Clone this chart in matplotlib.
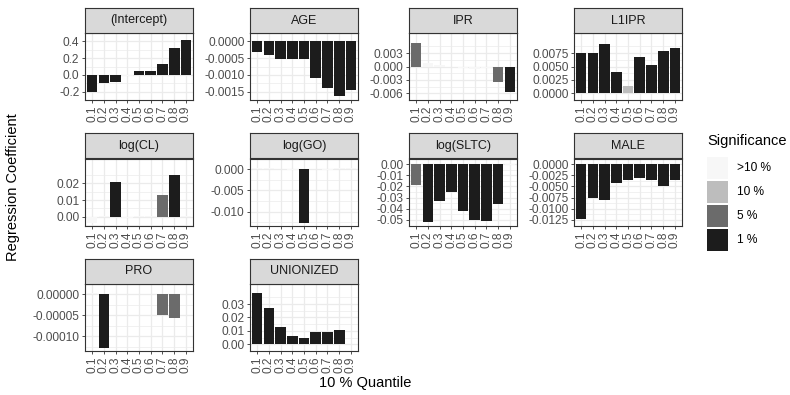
import numpy as np
import matplotlib
matplotlib.use('Agg')
import matplotlib.pyplot as plt
from matplotlib.patches import Rectangle

plt.rcParams['font.family'] = ['Liberation Sans', 'DejaVu Sans']
plt.rcParams['axes.unicode_minus'] = False

# quantiles on the x axis
quantiles = ['0.1', '0.2', '0.3', '0.4', '0.5', '0.6', '0.7', '0.8', '0.9']

# coefficient estimates per term
intercept = [-0.21, -0.10, -0.083, -0.01, 0.045, 0.045, 0.13, 0.32, 0.42]
age = [-0.00031, -0.00041, -0.00053, -0.00053, -0.00053, -0.00108, -0.00139, -0.00162, -0.00145]
ipr = [0.0053, 0.0008, 0.0003, -0.0002, -0.0004, -0.0005, -0.0003, -0.0034, -0.0056]
l1ipr = [0.0076, 0.0076, 0.0092, 0.0040, 0.0014, 0.0067, 0.0053, 0.0079, 0.0084]
log_cl = [-0.0038, 0.0005, 0.0206, -0.001, 0.0003, 0.0004, 0.013, 0.0251, 0.0002]
log_go = [0.0003, 0.0002, 0.0001, -0.0002, -0.0126, 0.0001, -0.0003, 0.0002, 0.0003]
log_sltc = [-0.019, -0.052, -0.033, -0.025, -0.042, -0.050, -0.051, -0.036, -0.0005]
male = [-0.0123, -0.0076, -0.0081, -0.0042, -0.0036, -0.0031, -0.0036, -0.0048, -0.0036]
pro = [0.0000028, -0.000128, 0.000001, 0.0000015, 0.000001, 0.000002, -0.00005, -0.000057, 0.000001]
unionized = [0.0383, 0.0273, 0.0132, 0.0060, 0.0046, 0.0091, 0.0091, 0.0108, 0.0002]

# significance level per bar
sig_intercept = ['1 %', '1 %', '1 %', '>10 %', '1 %', '1 %', '1 %', '1 %', '1 %']
sig_age = ['1 %'] * 9
sig_ipr = ['5 %', '>10 %', '>10 %', '>10 %', '>10 %', '>10 %', '>10 %', '5 %', '1 %']
sig_l1ipr = ['1 %', '1 %', '1 %', '1 %', '10 %', '1 %', '1 %', '1 %', '1 %']
sig_log_cl = ['>10 %', '>10 %', '1 %', '>10 %', '>10 %', '>10 %', '5 %', '1 %', '>10 %']
sig_log_go = ['>10 %', '>10 %', '>10 %', '>10 %', '1 %', '>10 %', '>10 %', '>10 %', '>10 %']
sig_log_sltc = ['5 %', '1 %', '1 %', '1 %', '1 %', '1 %', '1 %', '1 %', '>10 %']
sig_male = ['1 %'] * 9
sig_pro = ['>10 %', '1 %', '>10 %', '>10 %', '>10 %', '>10 %', '5 %', '5 %', '>10 %']
sig_unionized = ['1 %', '1 %', '1 %', '1 %', '1 %', '1 %', '1 %', '1 %', '>10 %']

# y tick positions and labels for each facet
ticks_intercept = ([0.4, 0.2, 0.0, -0.2], ['0.4', '0.2', '0.0', '-0.2'])
ticks_age = ([0.0, -0.0005, -0.0010, -0.0015], ['0.0000', '-0.0005', '-0.0010', '-0.0015'])
ticks_ipr = ([0.003, 0.0, -0.003, -0.006], ['0.003', '0.000', '-0.003', '-0.006'])
ticks_l1ipr = ([0.0075, 0.005, 0.0025, 0.0], ['0.0075', '0.0050', '0.0025', '0.0000'])
ticks_log_cl = ([0.02, 0.01, 0.0], ['0.02', '0.01', '0.00'])
ticks_log_go = ([0.0, -0.005, -0.010], ['0.000', '-0.005', '-0.010'])
ticks_log_sltc = ([0.0, -0.01, -0.02, -0.03, -0.04, -0.05],
                  ['0.00', '-0.01', '-0.02', '-0.03', '-0.04', '-0.05'])
ticks_male = ([0.0, -0.0025, -0.005, -0.0075, -0.01, -0.0125],
              ['0.0000', '-0.0025', '-0.0050', '-0.0075', '-0.0100', '-0.0125'])
ticks_pro = ([0.0, -0.00005, -0.0001], ['0.00000', '-0.00005', '-0.00010'])
ticks_unionized = ([0.03, 0.02, 0.01, 0.0], ['0.03', '0.02', '0.01', '0.00'])

levels = ['>10 %', '10 %', '5 %', '1 %']
fills = {'>10 %': '#F7F7F7', '10 %': '#BDBDBD', '5 %': '#6B6B6B', '1 %': '#1C1C1C'}

facets = [
    ('(Intercept)', intercept, sig_intercept, ticks_intercept),
    ('AGE', age, sig_age, ticks_age),
    ('IPR', ipr, sig_ipr, ticks_ipr),
    ('L1IPR', l1ipr, sig_l1ipr, ticks_l1ipr),
    ('log(CL)', log_cl, sig_log_cl, ticks_log_cl),
    ('log(GO)', log_go, sig_log_go, ticks_log_go),
    ('log(SLTC)', log_sltc, sig_log_sltc, ticks_log_sltc),
    ('MALE', male, sig_male, ticks_male),
    ('PRO', pro, sig_pro, ticks_pro),
    ('UNIONIZED', unionized, sig_unionized, ticks_unionized),
]

W, H = 790, 395
fig = plt.figure(figsize=(W / 100, H / 100), dpi=100)

# panel geometry in pixels
col_left = [85, 250, 409, 574]
panel_w = 108
row_strip_top = [8, 133.5, 259]
strip_h = 25
panel_h = 67
tick_fs = 8.6


def px_rect(x, y, w, h):
    return [x / W, 1 - (y + h) / H, w / W, h / H]


x = np.arange(1, 10)
for i, (name, vals, sig, (tv, tl)) in enumerate(facets):
    r, c = divmod(i, 4)
    top = row_strip_top[r]
    ax = fig.add_axes(px_rect(col_left[c], top + strip_h, panel_w, panel_h))
    vals = np.array(vals)
    ax.bar(x, vals, width=0.9, color=[fills[s] for s in sig], edgecolor='none', zorder=3)
    lo, hi = min(vals.min(), 0), max(vals.max(), 0)
    pad = (hi - lo) * 0.05
    ax.set_ylim(lo - pad, hi + pad)
    ax.set_xlim(0.4, 9.6)
    ax.set_xticks(x)
    ax.set_xticklabels(quantiles, rotation=90, fontsize=tick_fs, color='#4D4D4D')
    ax.set_yticks(tv)
    ax.set_yticklabels(tl, fontsize=tick_fs, color='#4D4D4D')
    # minor y grid halfway between majors
    tv_sorted = sorted(tv)
    step = tv_sorted[1] - tv_sorted[0]
    minors = np.arange(tv_sorted[0] - step / 2, hi + pad + step, step)
    ax.set_yticks(minors, minor=True)
    ax.tick_params(which='minor', length=0)
    ax.tick_params(which='major', length=2.5, width=0.6, color='#333333', pad=1.5)
    ax.grid(True, which='major', color='#EBEBEB', linewidth=0.9, zorder=0)
    ax.grid(True, which='minor', axis='y', color='#EBEBEB', linewidth=0.5, zorder=0)
    ax.set_axisbelow(True)
    for sp in ax.spines.values():
        sp.set_color('#333333')
        sp.set_linewidth(0.8)

    sax = fig.add_axes(px_rect(col_left[c], top, panel_w, strip_h))
    sax.set_facecolor('#D9D9D9')
    sax.set_xticks([])
    sax.set_yticks([])
    for sp in sax.spines.values():
        sp.set_color('#333333')
        sp.set_linewidth(0.8)
    sax.text(0.5, 0.5, name, ha='center', va='center', fontsize=9, color='#1A1A1A',
             transform=sax.transAxes)

fig.text(13 / W, 1 - 187 / H, 'Regression Coefficient', rotation=90, ha='center', va='center',
         fontsize=10.5)
fig.text(365 / W, 1 - 383 / H, '10 % Quantile', ha='center', va='center', fontsize=10.5)

# legend
fig.text(707 / W, 1 - 141 / H, 'Significance', ha='left', va='center', fontsize=10.5)
for k, lev in enumerate(levels):
    ky = 157 + k * 24
    fig.add_artist(Rectangle((707 / W, 1 - (ky + 22) / H), 21 / W, 22 / H,
                             facecolor=fills[lev], edgecolor='none', transform=fig.transFigure))
    fig.text(737 / W, 1 - (ky + 11) / H, lev, ha='left', va='center', fontsize=8.6)

fig.savefig('out.png', dpi=100)
